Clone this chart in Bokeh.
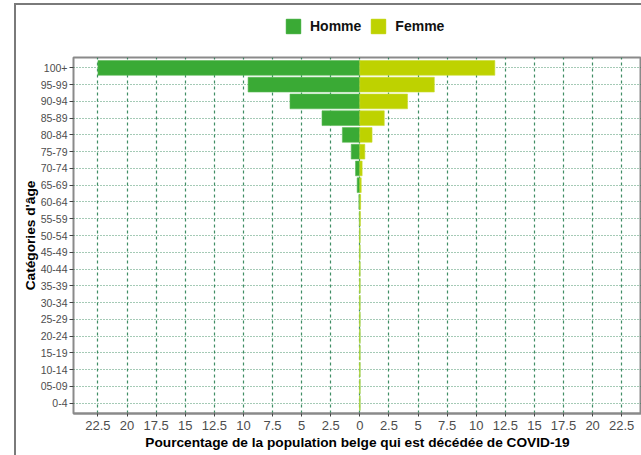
from bokeh.plotting import figure
from bokeh.models import FactorRange, Range1d, FixedTicker, Legend, LegendItem
from bokeh.layouts import column
from bokeh.embed import file_html
from bokeh.resources import INLINE

categories = ["0-4", "05-09", "10-14", "15-19", "20-24", "25-29", "30-34", "35-39",
              "40-44", "45-49", "50-54", "55-59", "60-64", "65-69", "70-74", "75-79",
              "80-84", "85-89", "90-94", "95-99", "100+"]
homme = [0.0, 0.0, 0.0, 0.0, 0.001, 0.002, 0.003, 0.005, 0.008, 0.012, 0.02, 0.04,
         0.08, 0.23, 0.37, 0.74, 1.5, 3.25, 6.0, 9.6, 22.5]
femme = [0.0, 0.0, 0.0, 0.0, 0.001, 0.001, 0.002, 0.003, 0.005, 0.008, 0.015, 0.04,
         0.07, 0.12, 0.2, 0.43, 1.05, 2.1, 4.1, 6.4, 11.6]
series_names = ["Homme", "Femme"]
series_colors = ["#3aaa35", "#bed200"]
x_ticks = [-22.5, -20, -17.5, -15, -12.5, -10, -7.5, -5, -2.5, 0,
           2.5, 5, 7.5, 10, 12.5, 15, 17.5, 20, 22.5]
x_tick_labels = ["22.5", "20", "17.5", "15", "12.5", "10", "7.5", "5", "2.5", "0",
                 "2.5", "5", "7.5", "10", "12.5", "15", "17.5", "20", "22.5"]

homme_left = [-v for v in homme]

FONT = "Liberation Sans"
W = 625

# ---------- legend strip ----------
lf = figure(width=W, height=51, output_backend="svg", toolbar_location=None,
            x_range=Range1d(0, 1), y_range=Range1d(0, 1),
            min_border_left=0, min_border_right=0, min_border_top=0,
            min_border_bottom=0, x_axis_location=None, y_axis_location=None)
lf.outline_line_color = None
lf.xgrid.visible = False
lf.ygrid.visible = False
# legend swatches only (their data lie outside the strip's visible range)
dummies = [lf.hbar(y=[-5], left=[-5], right=[-4], height=1, fill_color=c, line_color=c)
           for c in series_colors]
legend = Legend(items=[LegendItem(label=n, renderers=[r])
                       for n, r in zip(series_names, dummies)],
                orientation="horizontal", location=(211, 21),
                glyph_width=18, glyph_height=18, label_standoff=8, spacing=8,
                padding=0, margin=0, border_line_color=None,
                background_fill_alpha=0,
                label_text_font=FONT, label_text_font_style="bold",
                label_text_font_size="14px", label_text_color="#111111")
lf.add_layout(legend)

# ---------- main chart ----------
p = figure(width=W, height=399, output_backend="svg", toolbar_location=None,
           y_range=FactorRange(factors=categories, range_padding=0.12,
                               range_padding_units="absolute"),
           x_range=Range1d(-24.6, 24.2),
           min_border_left=57, min_border_right=0, min_border_top=1,
           min_border_bottom=42)

p.hbar(y=categories, left=homme_left, right=0, height=0.88,
       fill_color=series_colors[0], line_color="#5cbb57", line_width=0.6)
p.hbar(y=categories, left=0, right=femme, height=0.88,
       fill_color=series_colors[1], line_color="#cadd33", line_width=0.6)

p.outline_line_color = "#8a8a8a"
p.outline_line_width = 2
p.background_fill_color = "white"

p.xgrid.ticker = FixedTicker(ticks=x_ticks)
p.xgrid.grid_line_color = "#1f7a4a"
p.xgrid.grid_line_dash = "3 3"
p.xgrid.grid_line_width = 1.2
p.xgrid.grid_line_alpha = 0.85
p.ygrid.grid_line_color = "#1f7a4a"
p.ygrid.grid_line_dash = "1 2"
p.ygrid.grid_line_width = 1
p.ygrid.grid_line_alpha = 0.8

p.xaxis.ticker = FixedTicker(ticks=x_ticks)
p.xaxis.major_label_overrides = {t: l for t, l in zip(x_ticks, x_tick_labels)}
p.xaxis.axis_label = "Pourcentage de la population belge qui est décédée de COVID-19"
p.xaxis.axis_line_color = "#8a8a8a"
p.xaxis.axis_line_width = 2
p.xaxis.major_tick_line_color = "#444444"
p.xaxis.major_tick_out = 3
p.xaxis.major_tick_in = 0
p.xaxis.minor_tick_line_color = None
p.xaxis.major_label_standoff = 4
p.xaxis.major_label_text_font = FONT
p.xaxis.major_label_text_font_size = "13px"
p.xaxis.major_label_text_color = "#4d4d4d"
p.xaxis.axis_label_standoff = 2
p.xaxis.axis_label_text_font = FONT
p.xaxis.axis_label_text_font_size = "13.7px"
p.xaxis.axis_label_text_font_style = "bold"
p.xaxis.axis_label_text_color = "#000000"

p.yaxis.axis_label = "Catégories d'âge"
p.yaxis.axis_line_color = None
p.yaxis.major_tick_line_color = "#444444"
p.yaxis.major_tick_out = 4
p.yaxis.major_tick_in = 0
p.yaxis.major_label_standoff = 2
p.yaxis.major_label_text_font = FONT
p.yaxis.major_label_text_font_size = "10.5px"
p.yaxis.major_label_text_color = "#4d4d4d"
p.yaxis.axis_label_standoff = 0
p.yaxis.axis_label_text_font = FONT
p.yaxis.axis_label_text_font_size = "13.7px"
p.yaxis.axis_label_text_font_style = "bold"
p.yaxis.axis_label_text_color = "#000000"

layout = column(lf, p, spacing=0,
                styles={"border-left": "2px solid #7a7a7a",
                        "border-top": "2px solid #7a7a7a",
                        "margin-left": "14px", "margin-top": "3px"})

open("out.html", "w").write(file_html(layout, INLINE))
